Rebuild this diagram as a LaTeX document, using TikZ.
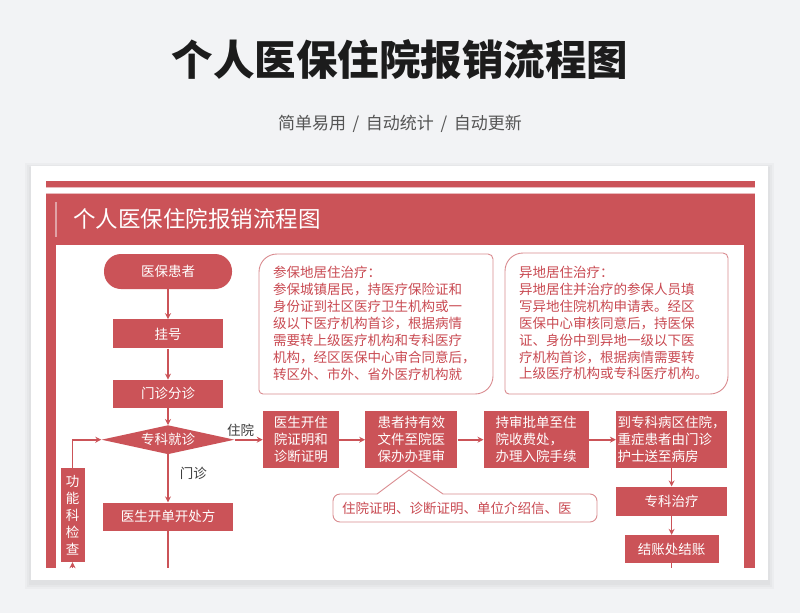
\documentclass[tikz,border=0pt]{standalone}
\usepackage{fontspec}
\usepackage{xcolor}
\usepackage{tikz}
\usetikzlibrary{positioning, arrows.meta, shapes.geometric, calc}
\newfontfamily\cjk{Noto Sans CJK SC}
\definecolor{brick}{HTML}{CB5358}
\definecolor{bricktext}{HTML}{C94A52}
\definecolor{brickline}{HTML}{DA8C90}
\definecolor{paper}{HTML}{F2F3F5}
\definecolor{ink}{HTML}{1C1C1C}
\definecolor{greytext}{HTML}{555555}
\tikzset{
  stepbox/.style={fill=brick, draw=none, text=white, align=center, font=\cjk\fontsize{13.5}{17}\selectfont, inner sep=1pt},
  startbox/.style={stepbox, rounded corners=17pt, minimum width=128pt, minimum height=35pt},
  decidebox/.style={stepbox, diamond, aspect=4.6, minimum width=133pt, minimum height=29pt, inner sep=0pt},
  wordbox/.style={stepbox, align=left, minimum height=57pt},
  infobox/.style={draw=brickline, line width=0.9pt, fill=white},
  infotext/.style={text=bricktext, align=left, font=\cjk\fontsize{13.5}{16.9}\selectfont, inner sep=0pt, anchor=north west},
  flowarrow/.style={-{Stealth[length=6pt, width=6pt]}, line width=1.6pt, draw=brick},
  flowline/.style={line width=1.6pt, draw=brick},
  branchlabel/.style={text=ink!85, font=\cjk\fontsize{13.5}{16}\selectfont, inner sep=1pt},
}
% note outline: big round corners top left and bottom right, small ones elsewhere
\newcommand{\notepath}[4]{%
  ({#1},{#2+18}) .. controls ({#1},{#2+8}) and ({#1+8},{#2}) .. ({#1+18},{#2})
  -- ({#3-5},{#2}) .. controls ({#3-2.2},{#2}) and ({#3},{#2+2.2}) .. ({#3},{#2+5})
  -- ({#3},{#4-18}) .. controls ({#3},{#4-8}) and ({#3-8},{#4}) .. ({#3-18},{#4})
  -- ({#1+4},{#4}) .. controls ({#1+1.8},{#4}) and ({#1},{#4-1.8}) .. ({#1},{#4-4}) -- cycle}

\begin{document}
\begin{tikzpicture}[x=1pt, y=-1pt]
  \useasboundingbox (0,0) rectangle (800,613);
  \fill[paper] (0,0) rectangle (800,613);

  % Heading above the card
  \node[font=\cjk\bfseries\fontsize{41.5}{44}\selectfont, text=ink, inner sep=0pt] (heading) at (400,60) {个人医保住院报销流程图};
  \node[font=\cjk\fontsize{17}{20}\selectfont, text=greytext, inner sep=0pt] (subheading) at (400,124) {简单易用 \,/\, 自动统计 \,/\, 自动更新};

  % Card with soft shadow
  \foreach \s in {6,4,2}
    \fill[black, opacity=0.025] (31-\s,166-\s+3) rectangle (768+\s,580+\s+3);
  \fill[white] (31,166) rectangle (768,580);

  % Red frame and title band
  \fill[brick] (46,181) rectangle (755,568);
  \fill[white] (46,187) rectangle (755,193);
  \draw[brickline!60, line width=0.5pt] (46,187) -- (755,187) (46,193) -- (755,193);
  \fill[white] (56,245) rectangle (744,568);
  \draw[brickline!80!white, line width=2.5pt] (56,202) -- (56,237);
  \node[font=\cjk\fontsize{22.5}{24}\selectfont, text=white, inner sep=0pt, anchor=west] (band) at (73,219) {个人医保住院报销流程图};

  % Two notes at the top
  \draw[infobox] \notepath{259}{254}{493}{394};
  \node[infotext] (localnote) at (273,266) {参保地居住治疗：\\参保城镇居民，持医疗保险证和\\身份证到社区医疗卫生机构或一\\级以下医疗机构首诊，根据病情\\需要转上级医疗机构和专科医疗\\机构，经区医保中心审合同意后，\\转区外、市外、省外医疗机构就};
  \draw[infobox] \notepath{505}{253}{728}{394};
  \node[infotext] (remotenote) at (519,266) {异地居住治疗：\\异地居住并治疗的参保人员填\\写异地住院机构申请表。经区\\医保中心审核同意后，持医保\\证、身份中到异地一级以下医\\疗机构首诊，根据病情需要转\\上级医疗机构或专科医疗机构。};

  % Left column
  \node[startbox] (patient) at (168,271.5) {医保患者};
  \node[stepbox, minimum width=110pt, minimum height=29pt, below=30pt of patient] (register) {挂号};
  \node[stepbox, minimum width=110pt, minimum height=28pt, below=31pt of register] (triage) {门诊分诊};
  \node[decidebox, below=17pt of triage] (clinic) {专科就诊};
  \node[stepbox, minimum width=130pt, minimum height=28pt, below=48pt of clinic] (prescribe) {医生开单开处方};
  \node[stepbox, minimum width=24pt, minimum height=94pt] (exam) at (72.5,515) {功\\能\\科\\检\\查};
  \coordinate (prescribeout) at (168,568);
  \coordinate (examin) at (72.5,568);
  \draw[flowarrow] (patient) -- (register);
  \draw[flowarrow] (register) -- (triage);
  \draw[flowarrow] (triage) -- (clinic);
  \draw[flowarrow] (clinic) -- node[branchlabel, right=10pt, pos=0.4] {门诊} (prescribe);
  \draw[flowline] (prescribe) -- (prescribeout);
  \draw[flowarrow] (examin) -- (exam);
  \draw[flowarrow] (exam.north) |- (clinic.west);

  % Inpatient row
  \node[wordbox, minimum width=76pt, right=28pt of clinic] (certify) {医生开住\\院证明和\\诊断证明};
  \node[wordbox, minimum width=92pt, right=26pt of certify] (review) {患者持有效\\文件至院医\\保办办理审};
  \node[wordbox, minimum width=105pt, right=26pt of review] (admit) {持审批单至住\\院收费处，\\办理入院手续};
  \node[wordbox, minimum width=111pt, right=27pt of admit] (ward) {到专科病区住院，\\重症患者由门诊\\护士送至病房};
  \node[stepbox, minimum width=111pt, minimum height=29pt, below=18pt of ward] (treat) {专科治疗};
  \node[stepbox, minimum width=94pt, minimum height=28pt, below=19pt of treat] (settle) {结账处结账};
  \coordinate (settleout) at (settle.south |- examin);
  \draw[flowarrow] (clinic) -- node[branchlabel, above=1pt, xshift=-8pt] {住院} (certify);
  \draw[flowarrow] (certify) -- (review);
  \draw[flowarrow] (review) -- (admit);
  \draw[flowarrow] (admit) -- (ward);
  \draw[flowarrow] (ward) -- (treat);
  \draw[flowarrow] (treat) -- (settle);
  \draw[flowline] (settle) -- (settleout);

  % Document list under the review step
  \draw[infobox] (409,470) -- (443,494) [rounded corners=7pt] -- (597,494) -- (597,522) -- (333,522) -- (333,494) [sharp corners] -- (377,494) -- cycle;
  \node[infotext, anchor=west, font=\cjk\fontsize{13.5}{16}\selectfont] (papers) at (342,508) {住院证明、诊断证明、单位介绍信、医};
\end{tikzpicture}
\end{document}
